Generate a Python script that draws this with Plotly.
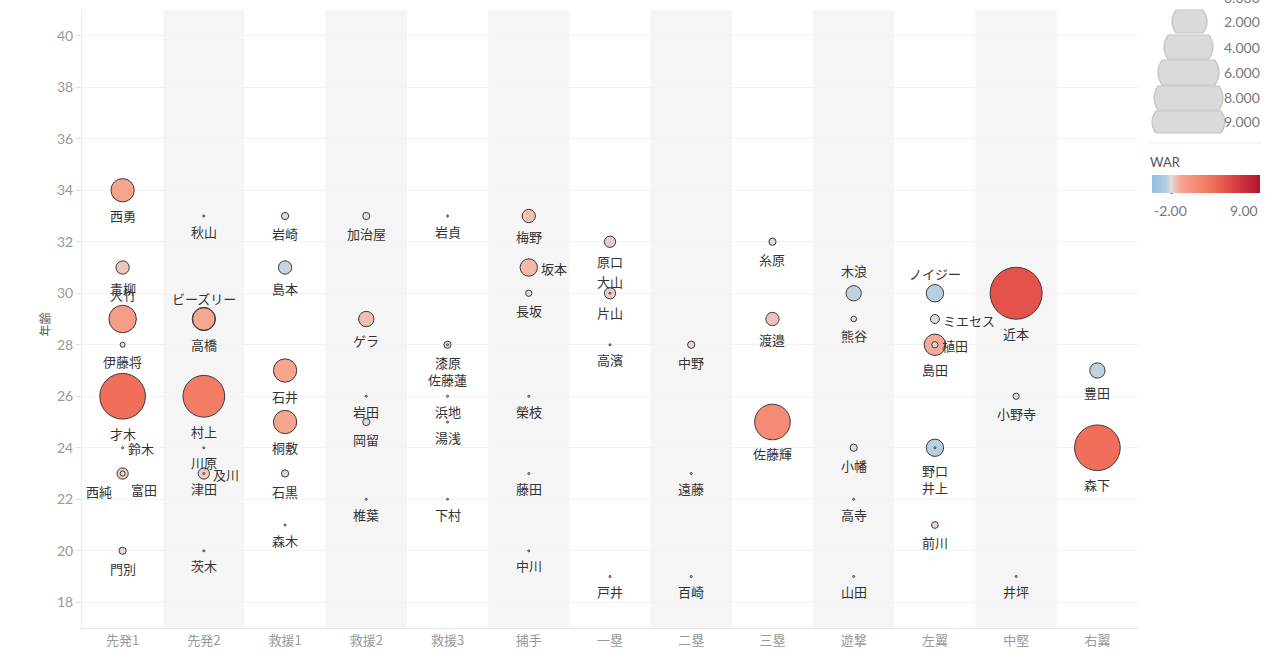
import numpy as np
import plotly.graph_objects as go

# ---------------- data ----------------
positions = ["先発1", "先発2", "救援1", "救援2", "救援3", "捕手", "一塁",
             "二塁", "三塁", "遊撃", "左翼", "中堅", "右翼"]

player_names = [
    "西勇", "青柳", "大竹", "伊藤将", "才木", "鈴木", "西純", "富田", "門別",
    "秋山", "ビーズリー", "高橋", "村上", "川原", "及川", "津田", "茨木",
    "岩崎", "島本", "石井", "桐敷", "石黒", "森木",
    "加治屋", "ゲラ", "岩田", "岡留", "椎葉",
    "岩貞", "漆原", "佐藤蓮", "浜地", "湯浅", "下村",
    "梅野", "坂本", "長坂", "榮枝", "藤田", "中川",
    "原口", "大山", "片山", "高濱", "戸井",
    "中野", "遠藤", "百崎",
    "糸原", "渡邉", "佐藤輝",
    "木浪", "熊谷", "小幡", "高寺", "山田",
    "ノイジー", "ミエセス", "島田", "植田", "野口", "井上", "前川",
    "近本", "小野寺", "井坪",
    "豊田", "森下",
]
player_pos = (
    ["先発1"] * 9 + ["先発2"] * 8 + ["救援1"] * 6 + ["救援2"] * 5 +
    ["救援3"] * 6 + ["捕手"] * 6 + ["一塁"] * 5 + ["二塁"] * 3 +
    ["三塁"] * 3 + ["遊撃"] * 5 + ["左翼"] * 7 + ["中堅"] * 3 + ["右翼"] * 2
)
player_age = [
    34, 31, 29, 28, 26, 24, 23, 23, 20,
    33, 29, 29, 26, 24, 23, 23, 20,
    33, 31, 27, 25, 23, 21,
    33, 29, 26, 25, 22,
    33, 28, 28, 26, 25, 22,
    33, 31, 30, 26, 23, 20,
    32, 30, 30, 28, 19,
    28, 23, 19,
    32, 29, 25,
    30, 29, 24, 22, 19,
    30, 29, 28, 28, 24, 24, 21,
    30, 26, 19,
    27, 24,
]
player_war = [
    1.0, 0.28, 1.43, 0.02, 4.2, 0.0, 0.19, 0.02, 0.06,
    0.0, 1.0, 0.92, 3.48, 0.0, 0.19, 0.0, 0.0,
    0.06, -0.28, 1.0, 1.0, 0.06, 0.0,
    0.06, 0.39, 0.0, 0.06, 0.0,
    0.0, 0.06, 0.0, 0.0, 0.0, 0.0,
    0.28, 0.52, 0.04, 0.0, 0.0, 0.0,
    0.19, 0.0, 0.19, 0.0, 0.0,
    0.06, 0.0, 0.0,
    0.06, 0.28, 2.49,
    -0.39, 0.03, 0.06, 0.0, 0.0,
    -0.52, -0.11, 0.83, 0.04, -0.52, 0.0, 0.05,
    5.5, 0.04, 0.0,
    -0.39, 4.2,
]
y_ticks = list(range(18, 41, 2))
size_legend_values = [2, 4, 6, 8, 9]
war_min, war_max = -2, 9

# ---------------- label placement (style) ----------------
# mode, dx(px), extra dy(px, positive = further down)
label_place = {
    "大竹": ("above", 0, 0), "ビーズリー": ("above", 0, 2), "大山": ("above", 0, 0),
    "木浪": ("above", 0, -4), "ノイジー": ("above", 0, 0),
    "鈴木": ("right", 0, 0), "及川": ("right", 0, 0), "坂本": ("right", 0, 0),
    "ミエセス": ("right", 0, 0), "植田": ("right", 0, 0),
    "西純": ("below", -24, -2), "富田": ("below", 21, -1),
    "佐藤蓮": ("below", 0, 20), "井上": ("below", 0, 25),
}

# ---------------- geometry helpers ----------------
L, R, T, B = 82, 1138, 10, 628
W, H = 1280, 670


def px(x):
    return (x - L) / (R - L)


def py(y):
    return (B - y) / (B - T)


def diam(w):
    return 2 + 21.3 * np.sqrt(np.abs(w))


cs_war = [(-2, "#8fbde3"), (-0.6, "#b2cce2"), (-0.3, "#c8d3dd"), (0, "#e4dedc"),
          (0.3, "#efc2b7"), (1.0, "#f7a48e"), (2.5, "#f58b74"), (3.5, "#f37c66"),
          (4.2, "#f06e5a"), (5.5, "#e5524a"), (9, "#b0122d")]
colorscale = [[(v - war_min) / (war_max - war_min), c] for v, c in cs_war]

xi = np.array([positions.index(p) for p in player_pos])
ages = np.array(player_age, dtype=float)
wars = np.array(player_war, dtype=float)
sizes = diam(wars)
order = np.argsort(-sizes, kind="stable")

fig = go.Figure()

# column bands
shapes = []
for i in range(1, len(positions), 2):
    shapes.append(dict(type="rect", xref="x", yref="paper", x0=i - 0.5, x1=i + 0.5,
                       y0=0, y1=1, fillcolor="#f5f5f5", line_width=0, layer="below"))

fig.add_trace(go.Scatter(
    x=xi[order], y=ages[order], mode="markers",
    text=[player_names[k] for k in order],
    customdata=wars[order],
    hovertemplate="%{text}<br>年齢 %{y}<br>WAR %{customdata}<extra></extra>",
    marker=dict(
        size=sizes[order], sizemode="diameter",
        color=wars[order], cmin=war_min, cmax=war_max, colorscale=colorscale,
        opacity=1,
        line=dict(color="rgba(50,50,50,0.95)", width=1),
        showscale=True,
        colorbar=dict(orientation="h", x=px(1152), xanchor="left", y=py(175), yanchor="top",
                      len=108, lenmode="pixels", thickness=18, outlinewidth=0,
                      xpad=0, ypad=0, showticklabels=False, ticks="", title=dict(text="")),
    ),
    showlegend=False,
))

annotations = []
lab_font = dict(family="Noto Sans CJK JP", size=13, color="#333333")
for k, name in enumerate(player_names):
    r = sizes[k] / 2
    mode, dx, dy = label_place.get(name, ("below", 0, 0))
    if mode == "below":
        annotations.append(dict(x=xi[k], y=ages[k], xref="x", yref="y", text=name,
                                showarrow=False, font=lab_font, xanchor="center",
                                yanchor="middle", xshift=dx, yshift=-(r + 14 + dy)))
    elif mode == "above":
        annotations.append(dict(x=xi[k], y=ages[k], xref="x", yref="y", text=name,
                                showarrow=False, font=lab_font, xanchor="center",
                                yanchor="middle", xshift=dx, yshift=(r + 11 - dy)))
    else:
        annotations.append(dict(x=xi[k], y=ages[k], xref="x", yref="y", text=name,
                                showarrow=False, font=lab_font, xanchor="left",
                                yanchor="middle", xshift=r + 2 + dx, yshift=-1 - dy))

# y axis title
annotations.append(dict(x=px(33), y=py(325), xref="paper", yref="paper", text="年齢",
                        textangle=-90, showarrow=False,
                        font=dict(family="Noto Sans CJK JP", size=12, color="#555555")))

# colour legend texts
leg_font = dict(family="Lato, Noto Sans CJK JP", size=14, color="#777777")
annotations.append(dict(x=px(1148), y=py(162), xref="paper", yref="paper", text="WAR",
                        showarrow=False, xanchor="left", yanchor="middle",
                        font=dict(family="Lato", size=13, color="#555555")))
annotations.append(dict(x=px(1152), y=py(210), xref="paper", yref="paper",
                        text=f"{war_min:.2f}", showarrow=False, xanchor="left",
                        yanchor="middle", font=leg_font))
annotations.append(dict(x=px(1260), y=py(210), xref="paper", yref="paper",
                        text=f"{war_max:.2f}", showarrow=False, xanchor="right",
                        yanchor="middle", font=leg_font))
x0 = 1152 + 108 * (0 - war_min) / (war_max - war_min)
shapes.append(dict(type="line", xref="paper", yref="paper", x0=px(x0), x1=px(x0),
                   y0=py(187), y1=py(194), line=dict(color="#333333", width=1.5)))

# size legend (pill shapes)
boxes = [(1172, 1207, 10, 33), (1164, 1213, 35, 59), (1158, 1219, 60, 85),
         (1154, 1223, 86, 110), (1152, 1225, 111, 133)]
for (bl, br, bt, bb), v in zip(boxes, size_legend_values):
    bm = (bt + bb) / 2
    bgl = 4
    path = (f"M {px(bl + bgl)},{py(bt)} L {px(br - bgl)},{py(bt)} "
            f"Q {px(br + bgl)},{py(bm)} {px(br - bgl)},{py(bb)} "
            f"L {px(bl + bgl)},{py(bb)} Q {px(bl - bgl)},{py(bm)} {px(bl + bgl)},{py(bt)} Z")
    shapes.append(dict(type="path", xref="paper", yref="paper", path=path,
                       fillcolor="#dadada", line=dict(color="#c4c4c4", width=1.2)))
    annotations.append(dict(x=px(1222), y=py(bm), xref="paper", yref="paper",
                            text=f"{v:.3f}", showarrow=False, xanchor="left",
                            yanchor="middle", font=leg_font))
annotations.append(dict(x=px(1222), y=py(-3), xref="paper", yref="paper",
                        text=f"{0:.3f}", showarrow=False, xanchor="left",
                        yanchor="middle", font=leg_font))
shapes.append(dict(type="line", xref="paper", yref="paper", x0=px(1148), x1=px(1262),
                   y0=py(143), y1=py(143), line=dict(color="#eeeeee", width=1)))

fig.update_layout(
    width=W, height=H,
    margin=dict(l=L, r=W - R, t=T, b=H - B, pad=0),
    paper_bgcolor="white", plot_bgcolor="white",
    shapes=shapes, annotations=annotations,
    font=dict(family="Noto Sans CJK JP", color="#333333"),
    xaxis=dict(range=[-0.5, len(positions) - 0.5], tickmode="array",
               tickvals=list(range(len(positions))), ticktext=positions,
               showgrid=False, zeroline=False, showline=True, linecolor="#e4e4e4",
               ticks="", tickfont=dict(family="Noto Sans CJK JP", size=13, color="#999999"),
               fixedrange=True),
    yaxis=dict(range=[17, 41], tickmode="array", tickvals=y_ticks,
               showgrid=True, gridcolor="#f3f3f3", zeroline=False,
               showline=True, linecolor="#eeeeee", ticks="outside", ticklen=5,
               tickcolor="#dddddd",
               tickfont=dict(family="Lato, Noto Sans", size=14, color="#999999"),
               fixedrange=True),
    hovermode="closest",
)

fig.write_html("out.html", config={"displayModeBar": False},
               post_script="document.body.style.margin='0';document.body.style.overflow='hidden';")
